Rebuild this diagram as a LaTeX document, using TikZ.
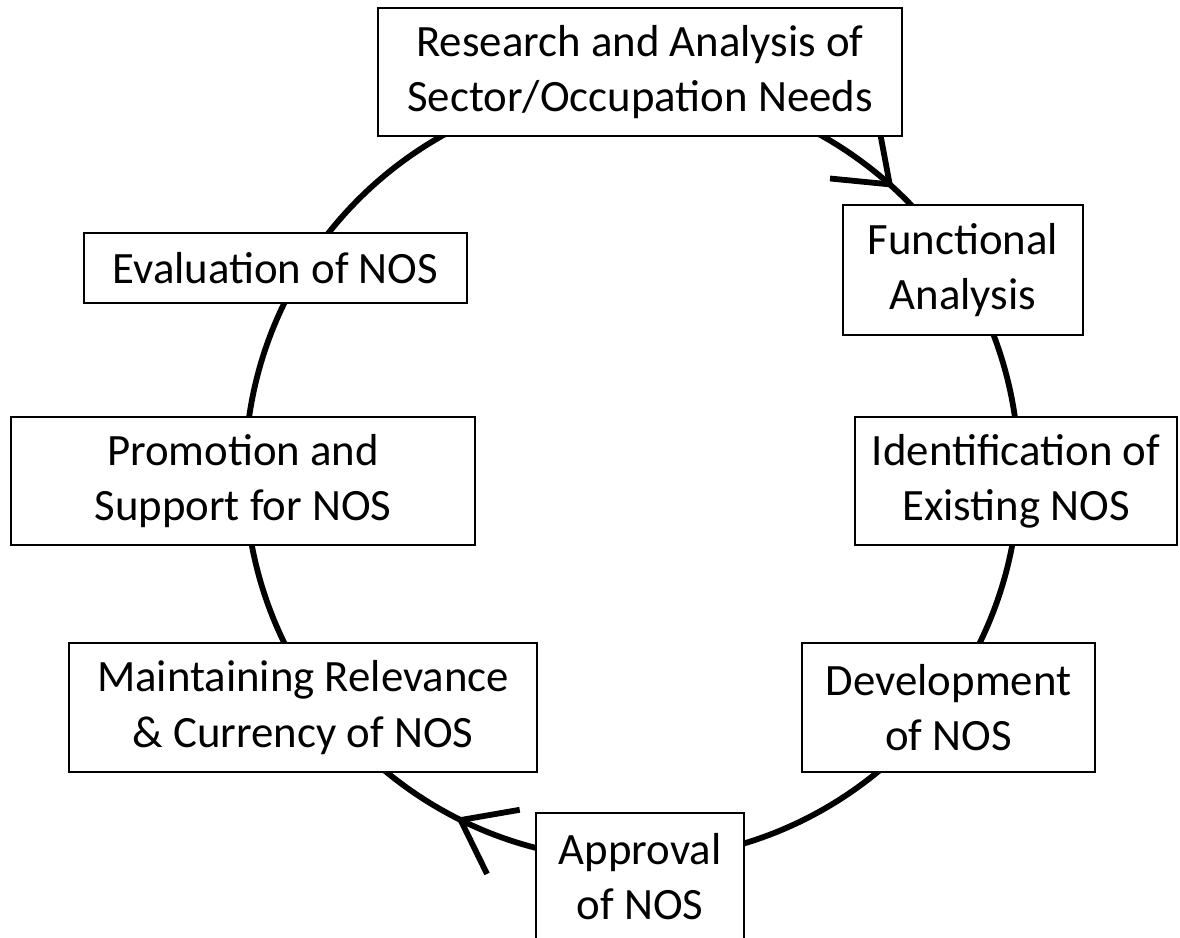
\documentclass[tikz,border=0pt]{standalone}
\usepackage{fontspec}
\setmainfont{Carlito}
\usetikzlibrary{arrows.meta,decorations.markings}
\begin{document}
\begin{tikzpicture}[x=0.02cm,y=-0.02cm,
  stepbox/.style={draw, line width=1.4pt, fill=white, inner sep=0pt, align=center,
    font=\fontsize{25.5pt}{31.5pt}\selectfont},
  ring/.style={line width=3.3pt},
  cyclearrow/.style={decoration={markings,
    mark=at position 0.132 with {\arrowreversed[line width=3.3pt]{Straight Barb[length=0.96cm,width=1.44cm]}},
    mark=at position 0.675 with {\arrowreversed[line width=3.3pt]{Straight Barb[length=0.96cm,width=1.44cm]}}},
    postaction={decorate}}]
\useasboundingbox (0,0) rectangle (1180,937);
\clip (0,0) rectangle (1180,937);
% cycle ring
\coordinate (centre) at (632,473);
\draw[ring, cyclearrow] (centre) circle[radius=7.74cm];
% boxes
\node[stepbox, minimum width=10.48cm, minimum height=2.56cm] (research) at (640,72)
  {Research and Analysis of\\Sector/Occupation Needs};
\node[stepbox, minimum width=4.8cm, minimum height=2.6cm] (functional) at (963,270)
  {Functional\\Analysis};
\node[stepbox, minimum width=6.44cm, minimum height=2.56cm] (identification) at (1016,481)
  {Identification of\\Existing NOS};
\node[stepbox, minimum width=5.86cm, minimum height=2.58cm] (development) at (948.5,707.5)
  {Development\\of NOS};
\node[stepbox, minimum width=4.16cm, minimum height=2.54cm] (approval) at (640,876.5)
  {Approval\\of NOS};
\node[stepbox, minimum width=9.36cm, minimum height=2.58cm] (maintaining) at (303,707.5)
  {Maintaining Relevance\\\& Currency of NOS};
\node[stepbox, minimum width=9.28cm, minimum height=2.56cm] (promotion) at (243,481)
  {Promotion and\\Support for NOS};
\node[stepbox, minimum width=7.66cm, minimum height=1.4cm] (evaluation) at (275.5,268)
  {Evaluation of NOS};
\end{tikzpicture}
\end{document}
